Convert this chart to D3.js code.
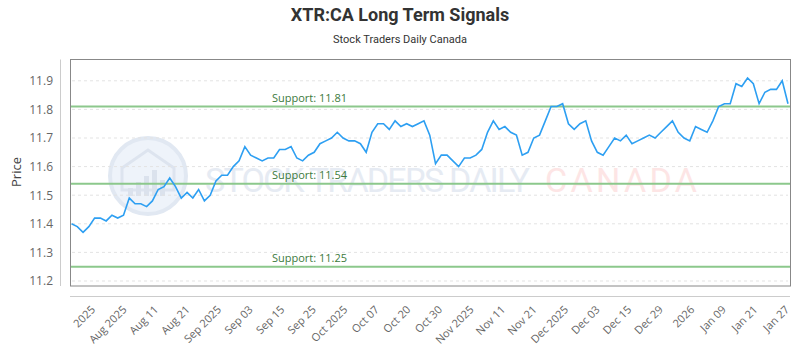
<!DOCTYPE html>
<meta charset="utf-8">
<style>
    body { margin: 0; background: #fff; }
    text { font-family: "Open Sans", sans-serif; }
    .line { fill: none; stroke: #2d9ff2; stroke-width: 1.6px; }
    .grid line { stroke: #e3e3e3; stroke-dasharray: 3,3; }
</style>
<script src="https://d3js.org/d3.v7.min.js"></script>
<body>
<div id="chart"></div>
<script>
    // closing prices, one per trading day
    var prices = [
        11.40, 11.39, 11.37, 11.39, 11.42, 11.42, 11.41, 11.43, 11.42, 11.43,
        11.49, 11.47, 11.47, 11.46, 11.48, 11.52, 11.53, 11.56, 11.53, 11.49,
        11.51, 11.49, 11.52, 11.48, 11.50, 11.55, 11.57, 11.57, 11.60, 11.62,
        11.67, 11.64, 11.63, 11.62, 11.63, 11.63, 11.66, 11.66, 11.67, 11.63,
        11.62, 11.64, 11.65, 11.68, 11.69, 11.70, 11.72, 11.70, 11.69, 11.69,
        11.68, 11.65, 11.72, 11.75, 11.75, 11.73, 11.76, 11.74, 11.75, 11.74,
        11.75, 11.76, 11.71, 11.61, 11.64, 11.64, 11.62, 11.60, 11.63, 11.63,
        11.64, 11.66, 11.72, 11.76, 11.73, 11.74, 11.72, 11.71, 11.64, 11.65,
        11.70, 11.71, 11.76, 11.81, 11.81, 11.82, 11.75, 11.73, 11.75, 11.76,
        11.69, 11.65, 11.64, 11.67, 11.70, 11.69, 11.71, 11.68, 11.69, 11.70,
        11.71, 11.70, 11.72, 11.74, 11.76, 11.72, 11.70, 11.69, 11.74, 11.73,
        11.72, 11.76, 11.81, 11.82, 11.82, 11.89, 11.88, 11.91, 11.89, 11.82,
        11.86, 11.87, 11.87, 11.90, 11.82
    ];
    var supports = [11.81, 11.54, 11.25];
    var xLabels = ["2025", "Aug 2025", "Aug 11", "Aug 21", "Sep 2025", "Sep 03", "Sep 15",
        "Sep 25", "Oct 2025", "Oct 07", "Oct 20", "Oct 30", "Nov 2025", "Nov 11", "Nov 21",
        "Dec 2025", "Dec 03", "Dec 15", "Dec 29", "2026", "Jan 09", "Jan 21", "Jan 27"];
    var yTicks = [11.2, 11.3, 11.4, 11.5, 11.6, 11.7, 11.8, 11.9];

    var W = 800, H = 350;
    var grid = { left: 70, right: 790, top: 59.5, bottom: 286 };

    var svg = d3.select("#chart").append("svg")
        .attr("width", W)
        .attr("height", H);

    var x = d3.scaleLinear().domain([0, prices.length - 1]).range([71.5, 788]);
    var y = d3.scaleLinear().domain([11.1825, 11.9745]).range([grid.bottom, grid.top]);
    var xl = d3.scalePoint().domain(xLabels).range([93, 787]);

    // titles
    svg.append("text")
        .attr("x", 400).attr("y", 21)
        .attr("text-anchor", "middle")
        .style("font-family", "Roboto, sans-serif")
        .style("font-weight", "bold")
        .style("font-size", "18px")
        .attr("fill", "#333")
        .text("XTR:CA Long Term Signals");

    svg.append("text")
        .attr("x", 400).attr("y", 43)
        .attr("text-anchor", "middle")
        .style("font-family", "Roboto, sans-serif")
        .style("font-size", "11px")
        .attr("fill", "#333")
        .text("Stock Traders Daily Canada");

    // watermark
    var wm = svg.append("g");
    wm.append("circle")
        .attr("cx", 148).attr("cy", 176).attr("r", 38)
        .attr("fill", "#eef3fa")
        .attr("stroke", "#e1e8f2")
        .attr("stroke-width", 4);
    wm.append("path")
        .attr("d", "M122,190 L122,168 L148,150 L174,168 L174,190 Z")
        .attr("fill", "none")
        .attr("stroke", "#dde4ef")
        .attr("stroke-width", 3);
    [[128, 8], [136, 14], [144, 20], [152, 26], [160, 16]].forEach(function(b) {
        wm.append("rect")
            .attr("x", b[0]).attr("y", 196 - b[1])
            .attr("width", 5).attr("height", b[1])
            .attr("fill", "#dbe2ed");
    });
    wm.append("text")
        .attr("x", 205).attr("y", 192)
        .attr("textLength", 325)
        .attr("lengthAdjust", "spacing")
        .style("font-family", "Roboto, sans-serif")
        .style("font-size", "34px")
        .attr("fill", "#e6ebf3")
        .text("STOCK TRADERS DAILY");
    wm.append("text")
        .attr("x", 545).attr("y", 192)
        .attr("textLength", 152)
        .attr("lengthAdjust", "spacing")
        .style("font-family", "Roboto, sans-serif")
        .style("font-size", "34px")
        .attr("fill", "#fde5e5")
        .text("CANADA");

    // grid lines
    svg.append("g")
        .attr("class", "grid")
        .selectAll("line")
        .data(yTicks)
        .enter().append("line")
        .attr("x1", grid.left + 2).attr("x2", grid.right - 2)
        .attr("y1", function(d) { return y(d); })
        .attr("y2", function(d) { return y(d); });

    // grid frame
    svg.append("rect")
        .attr("x", grid.left + 0.5).attr("y", grid.top)
        .attr("width", grid.right - grid.left).attr("height", grid.bottom - grid.top)
        .attr("fill", "none")
        .attr("stroke", "#888");

    // y axis
    var yAxis = d3.axisLeft(y).tickValues(yTicks).tickSize(0).tickPadding(0).tickFormat(d3.format(".1f"));
    var gy = svg.append("g")
        .attr("transform", "translate(53,0)")
        .call(yAxis);
    gy.select(".domain").remove();
    gy.selectAll("text")
        .style("font-family", "'Open Sans', sans-serif")
        .style("font-size", "12px")
        .attr("fill", "#666");
    svg.append("line")
        .attr("x1", 60.5).attr("x2", 60.5)
        .attr("y1", grid.top).attr("y2", grid.bottom)
        .attr("stroke", "#ccc");

    svg.append("text")
        .attr("transform", "translate(21,172) rotate(-90)")
        .attr("text-anchor", "middle")
        .style("font-size", "13px")
        .attr("fill", "#444")
        .text("Price");

    // x axis
    svg.append("line")
        .attr("x1", grid.left).attr("x2", grid.right)
        .attr("y1", 296.5).attr("y2", 296.5)
        .attr("stroke", "#ccc");

    var xAxis = d3.axisBottom(xl).tickSize(0).tickPadding(0);
    var gx = svg.append("g")
        .attr("transform", "translate(0,308)")
        .call(xAxis);
    gx.select(".domain").remove();
    gx.selectAll("text")
        .attr("transform", "rotate(-45)")
        .attr("text-anchor", "end")
        .attr("dy", "0.3em")
        .attr("y", 0)
        .style("font-family", "'Open Sans', sans-serif")
        .style("font-size", "11px")
        .attr("fill", "#666");

    // support lines
    var sg = svg.append("g");
    sg.selectAll("line")
        .data(supports)
        .enter().append("line")
        .attr("x1", grid.left + 1).attr("x2", grid.right)
        .attr("y1", function(d) { return y(d); })
        .attr("y2", function(d) { return y(d); })
        .attr("stroke", "#8cc88c")
        .attr("stroke-width", 2);
    sg.selectAll("text")
        .data(supports)
        .enter().append("text")
        .attr("x", 272)
        .attr("y", function(d) { return y(d) - 4.5; })
        .style("font-size", "11px")
        .attr("fill", "#3c7a3c")
        .text(function(d) { return "Support: " + d.toFixed(2); });

    // price line
    var line = d3.line()
        .x(function(d, i) { return x(i); })
        .y(function(d) { return y(d); });

    svg.append("path")
        .datum(prices)
        .attr("class", "line")
        .attr("d", line);
</script>
</body>
